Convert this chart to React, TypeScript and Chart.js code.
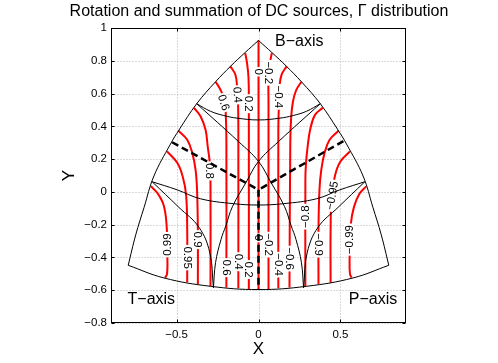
import React, { useEffect, useRef } from 'react';
import { Chart, registerables } from 'chart.js';

Chart.register(...registerables);

const FONT = '"Liberation Sans", Arial, Helvetica, sans-serif';

// ---- axes ----
const xTickValues = [-0.5, 0, 0.5];
const yTickValues = [-0.8, -0.6, -0.4, -0.2, 0, 0.2, 0.4, 0.6, 0.8, 1];
const titleText = 'Rotation and summation of DC sources, \u0393 distribution';

// ---- black frame of the diagram ----
const leftEdge = [[0, 0.924], [-0.082, 0.85], [-0.17, 0.767], [-0.262, 0.672], [-0.377, 0.538], [-0.485, 0.378], [-0.537, 0.292], [-0.638, 0.097], [-0.698, -0.094], [-0.749, -0.262], [-0.795, -0.448]];
const rightEdge = [[0, 0.924], [0.082, 0.85], [0.17, 0.767], [0.262, 0.672], [0.377, 0.538], [0.485, 0.378], [0.537, 0.292], [0.638, 0.097], [0.698, -0.094], [0.749, -0.262], [0.795, -0.448]];
const bottomEdge = [[-0.795, -0.448], [-0.577, -0.525], [-0.293, -0.576], [0, -0.596], [0.293, -0.576], [0.577, -0.525], [0.795, -0.448]];
const upperArc = [[-0.377, 0.538], [-0.293, 0.492], [-0.212, 0.466], [-0.131, 0.45], [0, 0.439], [0.131, 0.45], [0.212, 0.466], [0.293, 0.492], [0.377, 0.538]];
const lowerArc = [[-0.649, 0.062], [-0.495, 0.012], [-0.354, -0.042], [-0.152, -0.072], [0, -0.08], [0.152, -0.072], [0.354, -0.042], [0.495, 0.012], [0.649, 0.062]];
const crossFromLeft = [[-0.377, 0.538], [-0.121, 0.306], [0, 0.186], [0.077, 0.056], [0.159, -0.09], [0.199, -0.206], [0.229, -0.291], [0.262, -0.432], [0.275, -0.585]];
const crossFromRight = [[0.377, 0.538], [0.121, 0.306], [0, 0.186], [-0.077, 0.056], [-0.159, -0.09], [-0.199, -0.206], [-0.229, -0.291], [-0.262, -0.432], [-0.275, -0.585]];
const cornerCurveT = [[-0.649, 0.062], [-0.485, -0.095], [-0.364, -0.215], [-0.298, -0.368], [-0.275, -0.585]];
const cornerCurveP = [[0.649, 0.062], [0.485, -0.095], [0.364, -0.215], [0.298, -0.368], [0.275, -0.585]];

// ---- thick dashed black lines ----
const dashLeft = [[-0.527, 0.303], [0, 0.013]];
const dashRight = [[0.518, 0.31], [0, 0.013]];
const dashCenter = [[0, 0.013], [0, -0.596]];

// ---- red contour lines ----
const c0 = [[0, 0.924], [0, -0.596]];
const cP02 = [[-0.081, 0.847], [-0.07, 0.786], [-0.061, 0.696], [-0.059, 0.55], [-0.059, -0.595]];
const cP04 = [[-0.172, 0.767], [-0.141, 0.715], [-0.131, 0.643], [-0.125, 0.55], [-0.123, 0.379], [-0.123, -0.588]];
const cP06 = [[-0.262, 0.672], [-0.232, 0.623], [-0.208, 0.562], [-0.2, 0.481], [-0.196, 0.318], [-0.196, -0.583]];
const cP08 = [[-0.394, 0.513], [-0.353, 0.46], [-0.323, 0.379], [-0.31, 0.277], [-0.297, 0.176], [-0.293, 0.074], [-0.293, -0.576]];
const cP09 = [[-0.488, 0.373], [-0.435, 0.318], [-0.404, 0.237], [-0.384, 0.135], [-0.375, 0.013], [-0.37, -0.231], [-0.37, -0.563]];
const cP095 = [[-0.558, 0.247], [-0.495, 0.176], [-0.463, 0.095], [-0.442, -0.017], [-0.435, -0.23], [-0.435, -0.551]];
const cP099 = [[-0.657, 0.034], [-0.617, -0.007], [-0.579, -0.08], [-0.561, -0.2], [-0.556, -0.403], [-0.558, -0.5], [-0.57, -0.524]];
const cM02 = [[0.081, 0.847], [0.07, 0.786], [0.061, 0.696], [0.061, 0.55], [0.061, -0.595]];
const cM04 = [[0.172, 0.767], [0.141, 0.715], [0.128, 0.643], [0.125, 0.55], [0.121, 0.379], [0.121, -0.588]];
const cM06 = [[0.262, 0.672], [0.23, 0.621], [0.21, 0.55], [0.199, 0.45], [0.194, 0.3], [0.189, -0.583]];
const cM08 = [[0.392, 0.513], [0.345, 0.47], [0.315, 0.379], [0.3, 0.277], [0.29, 0.176], [0.286, 0.074], [0.286, -0.577]];
const cM09 = [[0.488, 0.373], [0.434, 0.318], [0.403, 0.237], [0.383, 0.135], [0.372, 0.013], [0.366, -0.231], [0.366, -0.562]];
const cM095 = [[0.558, 0.247], [0.5, 0.185], [0.468, 0.105], [0.447, -0.017], [0.44, -0.23], [0.44, -0.555]];
const cM099 = [[0.657, 0.034], [0.616, -0.012], [0.583, -0.09], [0.563, -0.2], [0.556, -0.403], [0.558, -0.5], [0.568, -0.523]];

// ---- contour labels: text, x, y, rotation (deg) ----
const contourLabels: [string, number, number, number][] = [
  ['0', 0, 0.733, 90],
  ['\u22120.2', 0.061, 0.727, 90],
  ['0.2', -0.06, 0.538, 90],
  ['0.4', -0.128, 0.592, 85],
  ['0.6', -0.212, 0.545, 72],
  ['\u22120.4', 0.126, 0.58, 90],
  ['0.8', -0.295, 0.128, 90],
  ['0.99', -0.556, -0.322, -90],
  ['0.95', -0.435, -0.401, 90],
  ['0.9', -0.37, -0.291, 90],
  ['0.6', -0.196, -0.462, 90],
  ['0.4', -0.123, -0.426, 90],
  ['0.2', -0.059, -0.474, 90],
  ['0', 0, -0.279, 90],
  ['\u22120.2', 0.061, -0.322, 90],
  ['\u22120.4', 0.121, -0.444, 90],
  ['\u22120.6', 0.189, -0.407, 90],
  ['\u22120.8', 0.286, -0.151, -90],
  ['\u22120.9', 0.366, -0.322, 90],
  ['\u22120.95', 0.449, -0.023, -80],
  ['\u22120.99', 0.556, -0.291, -90],
];

// ---- axis names at the corners: text, left x, y ----
const cornerNames: [string, number, number][] = [
  ['B\u2212axis', 0.101, 0.922],
  ['T\u2212axis', -0.799, -0.652],
  ['P\u2212axis', 0.551, -0.652],
];

const toPts = (a: number[][]) => a.map(([x, y]) => ({ x, y }));
const fmt = (v: number) => String(Math.round(v * 10) / 10).replace('-', '\u2212');

const dashedSet = [dashLeft, dashRight, dashCenter];
const blackSet = [leftEdge, rightEdge, bottomEdge, upperArc, lowerArc, crossFromLeft, crossFromRight, cornerCurveT, cornerCurveP];
const redSet = [c0, cP02, cP04, cP06, cP08, cP09, cP095, cP099, cM02, cM04, cM06, cM08, cM09, cM095, cM099];

const FIRST_RED = dashedSet.length + blackSet.length;

const gridPlugin = {
  id: 'matlabFrame',
  beforeDatasetsDraw(chart: any) {
    const { ctx, chartArea: a, scales } = chart;
    const xs = scales.x;
    const ys = scales.y;
    const L = Math.round(a.left) + 0.5;
    const R = Math.round(a.right) - 0.5;
    const T = Math.round(a.top) + 0.5;
    const B = Math.round(a.bottom) - 0.5;
    ctx.save();
    ctx.lineWidth = 1;
    ctx.strokeStyle = '#b4b4b4';
    ctx.setLineDash([1, 2]);
    xTickValues.forEach((v) => {
      const p = Math.round(xs.getPixelForValue(v)) + 0.5;
      ctx.beginPath();
      ctx.moveTo(p, T);
      ctx.lineTo(p, B);
      ctx.stroke();
    });
    yTickValues.forEach((v) => {
      const p = Math.round(ys.getPixelForValue(v)) + 0.5;
      ctx.beginPath();
      ctx.moveTo(L, p);
      ctx.lineTo(R, p);
      ctx.stroke();
    });
    ctx.setLineDash([]);
    ctx.strokeStyle = '#000';
    ctx.strokeRect(L, T, R - L, B - T);
    const tl = 3;
    xTickValues.forEach((v) => {
      const p = Math.round(xs.getPixelForValue(v)) + 0.5;
      ctx.beginPath();
      ctx.moveTo(p, B);
      ctx.lineTo(p, B - tl);
      ctx.moveTo(p, T);
      ctx.lineTo(p, T + tl);
      ctx.stroke();
    });
    yTickValues.forEach((v) => {
      const p = Math.round(ys.getPixelForValue(v)) + 0.5;
      ctx.beginPath();
      ctx.moveTo(L, p);
      ctx.lineTo(L + tl, p);
      ctx.moveTo(R, p);
      ctx.lineTo(R - tl, p);
      ctx.stroke();
    });
    ctx.restore();
  },
  afterDatasetDraw(chart: any, args: any) {
    if (args.index !== FIRST_RED) return;
    const { ctx, scales } = chart;
    ctx.save();
    ctx.font = '11.5px ' + FONT;
    ctx.textAlign = 'center';
    ctx.textBaseline = 'middle';
    contourLabels.forEach(([t, x, y, r]) => {
      const px = scales.x.getPixelForValue(x);
      const py = scales.y.getPixelForValue(y);
      ctx.save();
      ctx.translate(px, py);
      ctx.rotate((r * Math.PI) / 180);
      const w = ctx.measureText(t).width;
      ctx.fillStyle = '#fff';
      ctx.fillRect(-w / 2 - 1.5, -4.5, w + 3, 9);
      ctx.fillStyle = '#000';
      ctx.fillText(t, 0, 0.5);
      ctx.restore();
    });
    ctx.restore();
  },
  afterDraw(chart: any) {
    const { ctx, scales, chartArea: a } = chart;
    ctx.save();
    ctx.fillStyle = '#000';
    ctx.font = '16px ' + FONT;
    ctx.textAlign = 'center';
    ctx.textBaseline = 'middle';
    ctx.fillText(titleText, (a.left + a.right) / 2 + 0.5, 12);
    ctx.textAlign = 'left';
    cornerNames.forEach(([t, x, y]) => {
      ctx.fillText(t, scales.x.getPixelForValue(x), scales.y.getPixelForValue(y) + 1);
    });
    ctx.restore();
  },
};

export default function App() {
  const ref = useRef<HTMLCanvasElement>(null);
  useEffect(() => {
    document.body.style.margin = '0';
    const datasets: any[] = [];
    dashedSet.forEach((d) =>
      datasets.push({ data: toPts(d), showLine: true, borderColor: '#000', borderWidth: 2.5, borderDash: [7, 4], pointRadius: 0, tension: 0, fill: false })
    );
    blackSet.forEach((d) =>
      datasets.push({ data: toPts(d), showLine: true, borderColor: '#000', borderWidth: 1, pointRadius: 0, tension: 0.4, fill: false })
    );
    redSet.forEach((d) =>
      datasets.push({ data: toPts(d), showLine: true, borderColor: '#ff0000', borderWidth: 2, pointRadius: 0, tension: 0.4, fill: false })
    );
    const tickFont = { family: FONT, size: 11.5 };
    const chart = new Chart(ref.current as HTMLCanvasElement, {
      type: 'scatter',
      data: { datasets },
      plugins: [gridPlugin],
      options: {
        animation: false,
        responsive: false,
        devicePixelRatio: 1,
        events: [],
        layout: { padding: { left: 0, right: 92, top: 28, bottom: 0 } },
        plugins: {
          legend: { display: false },
          tooltip: { enabled: false },
          title: { display: false },
        },
        scales: {
          x: {
            type: 'linear',
            min: -0.9,
            max: 0.9,
            afterBuildTicks: (s: any) => {
              s.ticks = xTickValues.map((v) => ({ value: v }));
            },
            afterFit: (s: any) => {
              s.height = 40;
            },
            ticks: { font: tickFont, color: '#000', padding: 5, autoSkip: false, maxRotation: 0, callback: (v: any) => fmt(Number(v)) },
            grid: { display: false, drawTicks: false },
            border: { display: false },
            title: { display: true, text: 'X', color: '#000', font: { family: FONT, size: 17 }, padding: { top: 0, bottom: 3 } },
          },
          y: {
            type: 'linear',
            min: -0.8,
            max: 1,
            afterBuildTicks: (s: any) => {
              s.ticks = yTickValues.map((v) => ({ value: v }));
            },
            afterFit: (s: any) => {
              s.width = 111;
            },
            ticks: { font: tickFont, color: '#000', padding: 4, autoSkip: false, callback: (v: any) => fmt(Number(v)) },
            grid: { display: false, drawTicks: false },
            border: { display: false },
            title: { display: true, text: 'Y', color: '#000', font: { family: FONT, size: 17 }, padding: { top: 59, bottom: 0 } },
          },
        },
      } as any,
    });
    return () => chart.destroy();
  }, []);
  return (
    <div style={{ width: 498, height: 363 }}>
      <canvas ref={ref} width={498} height={363} style={{ display: 'block', width: 498, height: 363 }} />
    </div>
  );
}
